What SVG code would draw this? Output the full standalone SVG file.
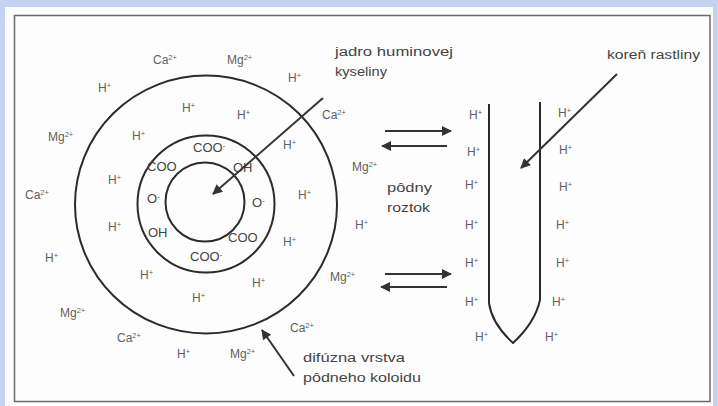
<svg xmlns="http://www.w3.org/2000/svg" width="718" height="406" viewBox="0 0 718 406">
<style>
text{font-family:"Liberation Sans",Arial,sans-serif;fill:#555}
.ion{font-size:12px;fill:#606060}
.grp{font-size:13px;fill:#444}
.lbl{font-size:12px;fill:#444}
.s{font-size:7.5px}
.ring{fill:none;stroke:#2b2b2b;stroke-width:2}
.ln{fill:none;stroke:#333;stroke-width:2}
</style>
<defs>
<marker id="ah" viewBox="0 0 10 10" refX="9" refY="5" markerWidth="5.5" markerHeight="5" orient="auto" markerUnits="strokeWidth">
<path d="M0,0 L10,5 L0,10 Z" fill="#333"/>
</marker>
</defs>
<rect width="718" height="406" fill="#c5d3f0"/>
<rect x="5" y="7" width="708" height="399" fill="#fdfdfd"/>
<rect x="14.5" y="15.5" width="695.5" height="386" fill="#fdfdfd" stroke="#6a6a6a" stroke-width="1.5"/>

<g id="humic-particle">
<ellipse class="ring" cx="206" cy="204.5" rx="131" ry="129"/>
<circle class="ring" cx="206" cy="204" r="68.5"/>
<circle class="ring" cx="205" cy="202" r="39.5"/>
<text class="grp" x="193" y="152">COO<tspan class="s" dy="-4">-</tspan></text>
<text class="grp" x="147" y="171">COO</text>
<text class="grp" x="233" y="172">OH</text>
<text class="grp" x="147" y="203">O<tspan class="s" dy="-4">-</tspan></text>
<text class="grp" x="252" y="207">O<tspan class="s" dy="-4">-</tspan></text>
<text class="grp" x="148" y="237">OH</text>
<text class="grp" x="228" y="242">COO</text>
<text class="grp" x="190" y="261">COO<tspan class="s" dy="-4">-</tspan></text>
</g>

<g id="diffuse-ions">
<text class="ion" x="153" y="64">Ca<tspan class="s" dy="-4">2+</tspan></text>
<text class="ion" x="227" y="64">Mg<tspan class="s" dy="-4">2+</tspan></text>
<text class="ion" x="98" y="92">H<tspan class="s" dy="-4">+</tspan></text>
<text class="ion" x="288" y="82">H<tspan class="s" dy="-4">+</tspan></text>
<text class="ion" x="182" y="112">H<tspan class="s" dy="-4">+</tspan></text>
<text class="ion" x="237" y="119">H<tspan class="s" dy="-4">+</tspan></text>
<text class="ion" x="322" y="119">Ca<tspan class="s" dy="-4">2+</tspan></text>
<text class="ion" x="48" y="141">Mg<tspan class="s" dy="-4">2+</tspan></text>
<text class="ion" x="132" y="140">H<tspan class="s" dy="-4">+</tspan></text>
<text class="ion" x="283" y="149">H<tspan class="s" dy="-4">+</tspan></text>
<text class="ion" x="352" y="171">Mg<tspan class="s" dy="-4">2+</tspan></text>
<text class="ion" x="108" y="184">H<tspan class="s" dy="-4">+</tspan></text>
<text class="ion" x="298" y="199">H<tspan class="s" dy="-4">+</tspan></text>
<text class="ion" x="25" y="199">Ca<tspan class="s" dy="-4">2+</tspan></text>
<text class="ion" x="355" y="229">H<tspan class="s" dy="-4">+</tspan></text>
<text class="ion" x="108" y="231">H<tspan class="s" dy="-4">+</tspan></text>
<text class="ion" x="283" y="246">H<tspan class="s" dy="-4">+</tspan></text>
<text class="ion" x="45" y="262">H<tspan class="s" dy="-4">+</tspan></text>
<text class="ion" x="140" y="279">H<tspan class="s" dy="-4">+</tspan></text>
<text class="ion" x="330" y="281">Mg<tspan class="s" dy="-4">2+</tspan></text>
<text class="ion" x="252" y="287">H<tspan class="s" dy="-4">+</tspan></text>
<text class="ion" x="192" y="302">H<tspan class="s" dy="-4">+</tspan></text>
<text class="ion" x="60" y="317">Mg<tspan class="s" dy="-4">2+</tspan></text>
<text class="ion" x="290" y="332">Ca<tspan class="s" dy="-4">2+</tspan></text>
<text class="ion" x="117" y="342">Ca<tspan class="s" dy="-4">2+</tspan></text>
<text class="ion" x="177" y="358">H<tspan class="s" dy="-4">+</tspan></text>
<text class="ion" x="230" y="358">Mg<tspan class="s" dy="-4">2+</tspan></text>
</g>

<g id="root">
<path class="ring" d="M489,104 L489,303 C491,318 500,331 513,343 C526,331 536,318 540,300 L540,102"/>
<text class="ion" x="469" y="119">H<tspan class="s" dy="-4">+</tspan></text>
<text class="ion" x="467" y="156">H<tspan class="s" dy="-4">+</tspan></text>
<text class="ion" x="465" y="189">H<tspan class="s" dy="-4">+</tspan></text>
<text class="ion" x="465" y="229">H<tspan class="s" dy="-4">+</tspan></text>
<text class="ion" x="465" y="267">H<tspan class="s" dy="-4">+</tspan></text>
<text class="ion" x="465" y="306">H<tspan class="s" dy="-4">+</tspan></text>
<text class="ion" x="475" y="341">H<tspan class="s" dy="-4">+</tspan></text>
<text class="ion" x="558" y="117">H<tspan class="s" dy="-4">+</tspan></text>
<text class="ion" x="559" y="154">H<tspan class="s" dy="-4">+</tspan></text>
<text class="ion" x="559" y="191">H<tspan class="s" dy="-4">+</tspan></text>
<text class="ion" x="556" y="229">H<tspan class="s" dy="-4">+</tspan></text>
<text class="ion" x="556" y="267">H<tspan class="s" dy="-4">+</tspan></text>
<text class="ion" x="552" y="306">H<tspan class="s" dy="-4">+</tspan></text>
<text class="ion" x="545" y="341">H<tspan class="s" dy="-4">+</tspan></text>
</g>

<g id="labels">
<text class="lbl" x="335" y="56" textLength="118" lengthAdjust="spacingAndGlyphs">jadro huminovej</text>
<text class="lbl" x="335" y="76" textLength="52" lengthAdjust="spacingAndGlyphs">kyseliny</text>
<text class="lbl" x="607" y="59" textLength="93" lengthAdjust="spacingAndGlyphs">koreň rastliny</text>
<text class="lbl" x="387" y="192" textLength="45" lengthAdjust="spacingAndGlyphs">pôdny</text>
<text class="lbl" x="387" y="212" textLength="43" lengthAdjust="spacingAndGlyphs">roztok</text>
<text class="lbl" x="303" y="362" textLength="102" lengthAdjust="spacingAndGlyphs">difúzna vrstva</text>
<text class="lbl" x="303" y="382" textLength="118" lengthAdjust="spacingAndGlyphs">pôdneho koloidu</text>
</g>

<g id="connectors">
<line class="ln" x1="323" y1="98" x2="213" y2="194" marker-end="url(#ah)"/>
<line class="ln" x1="617" y1="74" x2="521" y2="168" marker-end="url(#ah)"/>
<line class="ln" x1="294" y1="376" x2="262" y2="330" marker-end="url(#ah)"/>
<line class="ln" x1="385" y1="131" x2="451" y2="131" marker-end="url(#ah)"/>
<line class="ln" x1="447" y1="146" x2="382" y2="146" marker-end="url(#ah)"/>
<line class="ln" x1="385" y1="274" x2="451" y2="274" marker-end="url(#ah)"/>
<line class="ln" x1="447" y1="287" x2="381" y2="287" marker-end="url(#ah)"/>
</g>
</svg>
